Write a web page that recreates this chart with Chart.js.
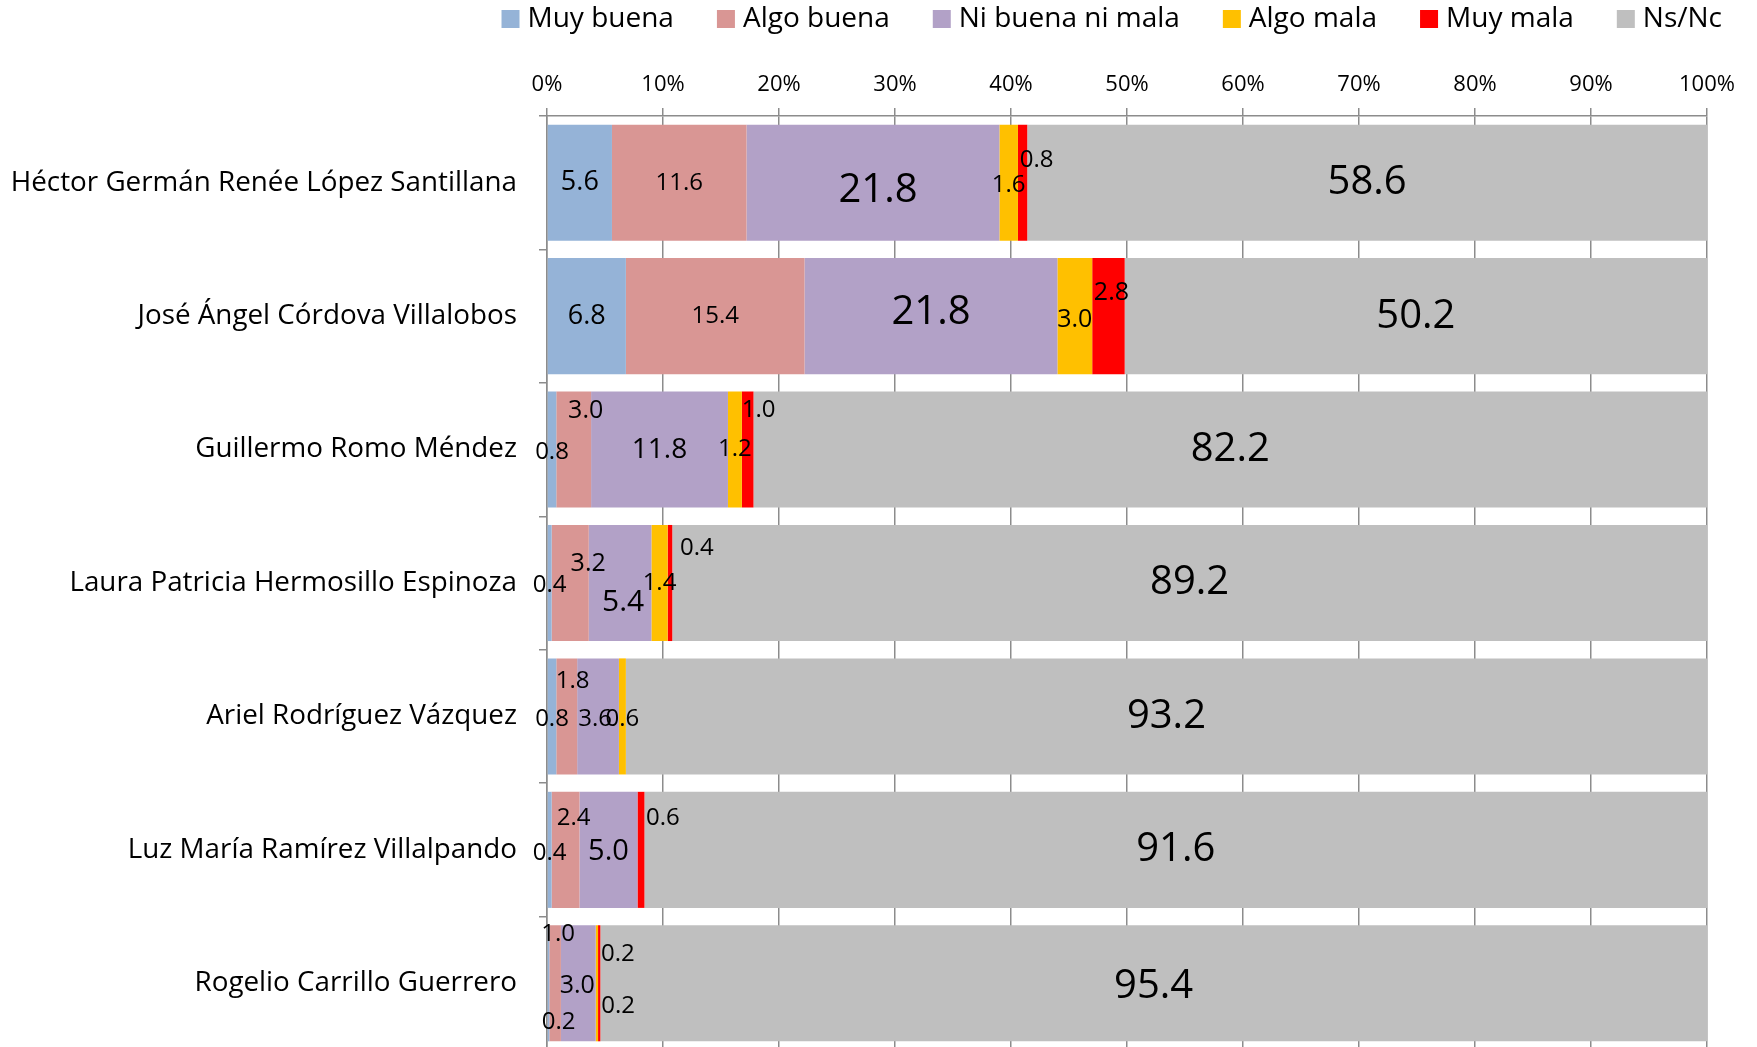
<!DOCTYPE html>
<html>
<head>
<meta charset="utf-8">
<script src="https://cdn.jsdelivr.net/npm/chart.js@4.4.1/dist/chart.umd.min.js"></script>
<style>
  html, body { margin: 0; padding: 0; background: #ffffff; overflow: hidden; }
  #wrap { width: 1757px; height: 1047px; position: relative; overflow: hidden; }
</style>
</head>
<body>
<div id="wrap"><canvas id="c" width="1757" height="1050"></canvas></div>
<script>
// ---------- DATA ----------
const categories = [
  'Héctor Germán Renée López Santillana',
  'José Ángel Córdova Villalobos',
  'Guillermo Romo Méndez',
  'Laura Patricia Hermosillo Espinoza',
  'Ariel Rodríguez Vázquez',
  'Luz María Ramírez Villalpando',
  'Rogelio Carrillo Guerrero'
];
const seriesNames = ['Muy buena', 'Algo buena', 'Ni buena ni mala', 'Algo mala', 'Muy mala', 'Ns/Nc'];
const muyBuena  = [5.6, 6.8, 0.8, 0.4, 0.8, 0.4, 0.2];
const algoBuena = [11.6, 15.4, 3.0, 3.2, 1.8, 2.4, 1.0];
const niBuena   = [21.8, 21.8, 11.8, 5.4, 3.6, 5.0, 3.0];
const algoMala  = [1.6, 3.0, 1.2, 1.4, 0.6, 0, 0.2];
const muyMala   = [0.8, 2.8, 1.0, 0.4, 0, 0.6, 0.2];
const nsNc      = [58.6, 50.2, 82.2, 89.2, 93.2, 91.6, 95.4];
const xTickValues = [0, 10, 20, 30, 40, 50, 60, 70, 80, 90, 100];

// ---------- STYLE ----------
const colors = ['#95B3D7', '#D99694', '#B2A1C7', '#FFC000', '#FF0000', '#BFBFBF'];
const FONT = '"Open Sans", "DejaVu Sans", sans-serif';

// label placement (px offsets from segment centre) and font sizes, per series
const labelOffsets = [
  [[0,0],[0,0],[0,3],[0,2],[0,3],[0,3],[10,39]],
  [[0,0],[0,0],[12,-39],[18,-19],[6,-35],[8,-32],[3,-49]],
  [[5,8],[0,-4],[0,0],[3,19],[-3,3],[0,2],[-1,3]],
  [[0,2],[0,4],[0,0],[0,0],[0,3],[0,0],[21,-29]],
  [[14,-23],[3,-23],[11,-39],[27,-35],[0,0],[22,-32],[19,23]],
  [[0,0],[0,0],[0,0],[0,0],[0,0],[0,0],[0,3]]
];
const labelSizes = [
  [27, 27, 24, 24, 24, 24, 24],
  [24, 24, 25, 25, 24, 24, 24],
  [40, 40, 28, 30, 24, 29, 25],
  [24, 25, 24, 24, 24, 24, 24],
  [24, 25, 24, 24, 24, 24, 24],
  [40, 40, 40, 40, 40, 40, 40]
];

const seriesValues = [muyBuena, algoBuena, niBuena, algoMala, muyMala, nsNc];

const datasets = seriesNames.map((name, i) => ({
  label: name,
  data: seriesValues[i],
  backgroundColor: colors[i],
  borderWidth: 0,
  categoryPercentage: 1.0,
  barPercentage: 0.87
}));

// ---------- PLUGINS ----------
const dataLabelPlugin = {
  id: 'dataLabels',
  afterDatasetsDraw(chart) {
    const ctx = chart.ctx;
    ctx.save();
    ctx.fillStyle = '#000000';
    ctx.textAlign = 'center';
    ctx.textBaseline = 'middle';
    chart.data.datasets.forEach((ds, i) => {
      const meta = chart.getDatasetMeta(i);
      meta.data.forEach((bar, j) => {
        const v = ds.data[j];
        if (!v) return;
        const cx = (bar.x + bar.base) / 2 + labelOffsets[i][j][0];
        const cy = bar.y + labelOffsets[i][j][1];
        ctx.font = labelSizes[i][j] + 'px ' + FONT;
        ctx.fillText(v.toFixed(1), cx, cy);
      });
    });
    ctx.restore();
  }
};

const legendPlugin = {
  id: 'customLegend',
  afterDraw(chart) {
    const ctx = chart.ctx;
    ctx.save();
    const fontSize = 28;
    ctx.font = fontSize + 'px ' + FONT;
    const box = 18, gap = 8, spacing = 43;
    const items = chart.data.datasets.map(d => ({ text: d.label, color: d.backgroundColor, w: ctx.measureText(d.label).width }));
    const total = items.reduce((s, it) => s + box + gap + it.w, 0) + spacing * (items.length - 1);
    let x = 1722 - total;
    const cy = 19;
    ctx.textBaseline = 'middle';
    ctx.textAlign = 'left';
    items.forEach(it => {
      ctx.fillStyle = it.color;
      ctx.fillRect(x, cy - box / 2, box, box);
      ctx.fillStyle = '#000000';
      ctx.fillText(it.text, x + box + gap, cy);
      x += box + gap + it.w + spacing;
    });
    ctx.restore();
  }
};

// ---------- CHART ----------
new Chart(document.getElementById('c'), {
  type: 'bar',
  data: { labels: categories, datasets },
  options: {
    indexAxis: 'y',
    responsive: false,
    animation: false,
    layout: { padding: { top: 40, right: 50, bottom: 0, left: 0 } },
    plugins: {
      legend: { display: false },
      tooltip: { enabled: false }
    },
    scales: {
      x: {
        position: 'top',
        stacked: true,
        min: 0,
        max: 100,
        afterBuildTicks(scale) { scale.ticks = xTickValues.map(v => ({ value: v })); },
        afterFit(scale) { scale.height = 76; },
        ticks: {
          callback: v => v + '%',
          color: '#000000',
          font: { family: FONT, size: 22 },
          padding: 10,
          maxRotation: 0
        },
        grid: { color: '#8C8C8C', lineWidth: 1.5, tickLength: 8, drawOnChartArea: true },
        border: { color: '#8C8C8C', width: 1.5 }
      },
      y: {
        stacked: true,
        afterFit(scale) { scale.width = 547; scale.paddingTop = 0; scale.paddingBottom = 0; },
        ticks: {
          color: '#000000',
          font: { family: FONT, size: 27.8 },
          padding: 22
        },
        grid: { offset: true, drawOnChartArea: false, color: '#8C8C8C', lineWidth: 1.5, tickLength: 8 },
        border: { color: '#8C8C8C', width: 1.5 }
      }
    }
  },
  plugins: [dataLabelPlugin, legendPlugin]
});
</script>
</body>
</html>
